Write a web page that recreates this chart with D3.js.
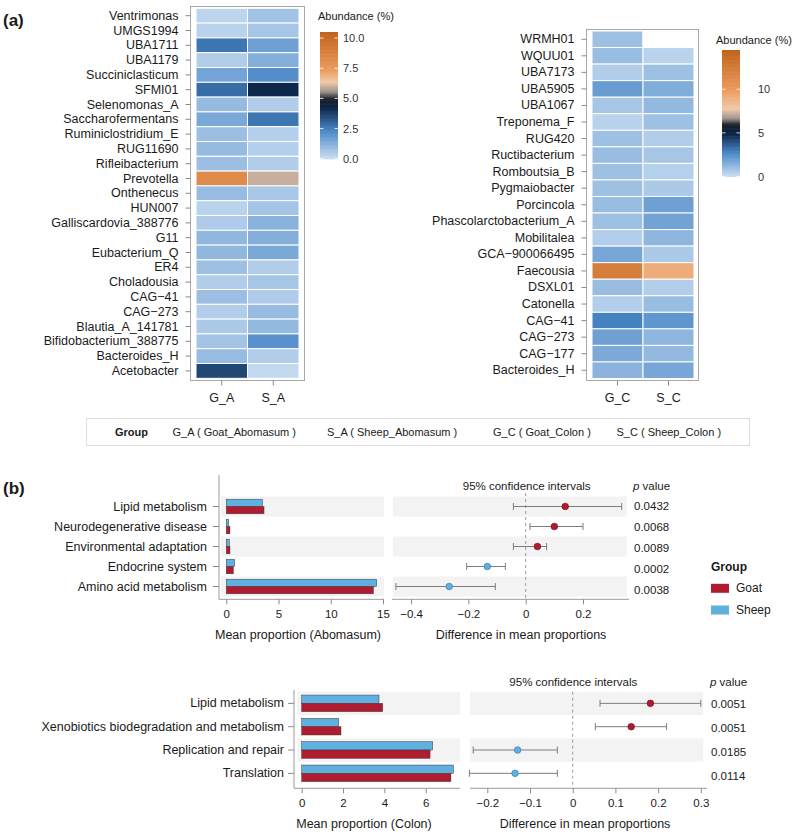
<!DOCTYPE html>
<html><head><meta charset="utf-8">
<script src="https://cdn.jsdelivr.net/npm/d3@7"></script>
<style>body{margin:0;background:#fff}svg{display:block}</style>
</head><body><svg id="c" width="800" height="835"></svg>
<script>
// ---------------- DATA ----------------
const leftTaxa = ["Ventrimonas","UMGS1994","UBA1711","UBA1179","Succiniclasticum","SFMI01","Selenomonas_A","Saccharofermentans","Ruminiclostridium_E","RUG11690","Rifleibacterium","Prevotella","Onthenecus","HUN007","Galliscardovia_388776","G11","Eubacterium_Q","ER4","Choladousia","CAG\u221241","CAG\u2212273","Blautia_A_141781","Bifidobacterium_388775","Bacteroides_H","Acetobacter"];
const leftCols = ["G_A","S_A"];
const leftGA = [0.3,0.35,2.7,0.5,1.6,2.9,1.0,1.5,0.9,1.0,0.9,8.3,0.95,0.35,0.55,1.1,1.1,0.85,0.5,0.9,0.5,0.6,0.75,0.95,3.6];
const leftSA = [0.8,0.7,1.7,1.3,2.2,4.2,0.5,2.7,0.45,0.45,0.5,6.0,0.65,0.75,1.25,1.3,1.5,0.5,0.7,0.55,0.95,1.05,2.1,0.5,0.2];
const leftBarTicks = [0,2.5,5,7.5,10];
const leftBarLabels = ["0.0","2.5","5.0","7.5","10.0"];

const rightTaxa = ["WRMH01","WQUU01","UBA7173","UBA5905","UBA1067","Treponema_F","RUG420","Ructibacterium","Romboutsia_B","Pygmaiobacter","Porcincola","Phascolarctobacterium_A","Mobilitalea","GCA\u2212900066495","Faecousia","DSXL01","Catonella","CAG\u221241","CAG\u2212273","CAG\u2212177","Bacteroides_H"];
const rightCols = ["G_C","S_C"];
const rightGC = [1.0,1.1,0.6,2.1,0.8,0.45,1.0,1.1,1.0,1.0,1.1,1.0,0.55,1.8,12.3,1.1,0.55,2.9,2.0,1.7,1.4];
const rightSC = [null,0.4,1.0,1.6,1.2,1.0,0.6,0.8,0.5,0.7,2.0,1.9,1.3,0.7,9.2,0.55,1.1,2.3,1.3,1.2,1.8];
const rightBarTicks = [0,5,10];
const rightBarLabels = ["0","5","10"];

const groupKeys = ["G_A","S_A","G_C","S_C"];
const groupNames = ["G_A ( Goat_Abomasum )","S_A ( Sheep_Abomasum )","G_C ( Goat_Colon )","S_C ( Sheep_Colon )"];

const aboPaths = ["Lipid metabolism","Neurodegenerative disease","Environmental adaptation","Endocrine system","Amino acid metabolism"];
const aboSheep = [3.45,0.23,0.29,0.80,14.4];
const aboGoat  = [3.61,0.35,0.35,0.67,14.08];
const aboDiff  = [0.138,0.100,0.041,-0.134,-0.267];
const aboLo    = [-0.043,0.015,-0.043,-0.206,-0.453];
const aboHi    = [0.335,0.200,0.073,-0.071,-0.106];
const aboP     = ["0.0432","0.0068","0.0089","0.0002","0.0038"];
const aboBarTicks = [0,5,10,15];
const aboDiffTicks = [-0.4,-0.2,0,0.2];

const colPaths = ["Lipid metabolism","Xenobiotics biodegradation and metabolism","Replication and repair","Translation"];
const colSheep = [3.74,1.79,6.34,7.34];
const colGoat  = [3.92,1.90,6.21,7.22];
const colDiff  = [0.182,0.137,-0.129,-0.135];
const colLo    = [0.064,0.053,-0.233,-0.242];
const colHi    = [0.300,0.220,-0.036,-0.036];
const colP     = ["0.0051","0.0051","0.0185","0.0114"];
const colBarTicks = [0,2,4,6];
const colDiffTicks = [-0.2,-0.1,0,0.1,0.2,0.3];

const groupLegend = ["Goat","Sheep"];

// ---------------- STYLE ----------------
const FONT = "'Liberation Sans', Arial, Helvetica, sans-serif";
const TXT = "#1a1a1a";
const SHEEP = "#5fb0e0", GOAT = "#b01b2f", STRIPE = "#f3f3f3";
const svg = d3.select("#c").attr("font-family", FONT);

function text(x, y, s, o = {}) {
  return svg.append("text").attr("x", x).attr("y", y).attr("dominant-baseline", "central")
    .attr("font-size", o.size || 12).attr("fill", o.fill || TXT)
    .attr("text-anchor", o.anchor || "start").attr("font-weight", o.bold ? "bold" : null).text(s);
}

const leftColor = d3.scaleLinear()
  .domain([0,2.4,4.3,5.0,5.6,6.4,7.4,10.5])
  .range(["#cde0f3","#4886c6","#0b2345","#1e2028","#9b948e","#f1c9a9","#eb9b5e","#c0631c"])
  .interpolate(d3.interpolateRgb).clamp(true);
const rightColor = d3.scaleLinear()
  .domain([0,2.8,5.0,6.0,6.7,7.8,10,14.5])
  .range(["#cde0f3","#4886c6","#0b2345","#1e2028","#9b948e","#f1c9a9","#eb9b5e","#c0631c"])
  .interpolate(d3.interpolateRgb).clamp(true);

function styleAxis(a, size) {
  a.select(".domain").remove();
  a.attr("font-family", FONT).attr("font-size", size);
  a.selectAll("line").attr("stroke", "#8a8a8a");
  a.selectAll("text").attr("fill", TXT);
}

function drawHeat(c) {
  const x = d3.scaleBand().domain(c.cols).range(c.xr);
  const y = d3.scaleBand().domain(c.taxa).range(c.yr);
  svg.append("rect").attr("x", c.panel[0]).attr("y", c.panel[1])
    .attr("width", c.panel[2] - c.panel[0]).attr("height", c.panel[3] - c.panel[1])
    .attr("fill", "#fff").attr("stroke", "#a8a8a8");
  const cells = [];
  c.cols.forEach((col, i) => c.taxa.forEach((t, j) => cells.push({ col, t, v: c.vals[i][j] })));
  svg.append("g").selectAll("rect").data(cells).join("rect")
    .attr("x", d => x(d.col)).attr("y", d => y(d.t))
    .attr("width", x.bandwidth()).attr("height", y.bandwidth())
    .attr("fill", d => d.v == null ? "#fff" : c.color(d.v))
    .attr("stroke", "#fff").attr("stroke-width", 1);
  const ay = svg.append("g").attr("transform", `translate(${c.panel[0]},0)`)
    .call(d3.axisLeft(y).tickSize(5).tickPadding(7).tickSizeOuter(0));
  const ax = svg.append("g").attr("transform", `translate(0,${c.panel[3]})`)
    .call(d3.axisBottom(x).tickSize(5).tickPadding(8).tickSizeOuter(0));
  styleAxis(ay, 12.5); styleAxis(ax, 12.5);
}

function drawCbar(c) {
  const y = d3.scaleLinear().domain([0, c.max]).range(c.yr);
  const n = 160;
  const steps = d3.range(n).map(i => [c.max * i / n, c.max * (i + 1) / n]);
  svg.append("g").selectAll("rect").data(steps).join("rect")
    .attr("x", c.x).attr("width", c.w)
    .attr("y", d => y(d[1])).attr("height", d => y(d[0]) - y(d[1]) + 0.6)
    .attr("fill", d => c.color((d[0] + d[1]) / 2));
  const g = svg.append("g");
  c.ticks.forEach((t, i) => {
    g.append("line").attr("x1", c.x).attr("x2", c.x + 3.5).attr("y1", y(t)).attr("y2", y(t)).attr("stroke", "#fff").attr("stroke-opacity", 0.8);
    g.append("line").attr("x1", c.x + c.w - 3.5).attr("x2", c.x + c.w).attr("y1", y(t)).attr("y2", y(t)).attr("stroke", "#fff").attr("stroke-opacity", 0.8);
    text(c.lx, y(t), c.labels[i], { size: 11, fill: "#333" });
  });
  text(c.tx, c.ty, "Abundance (%)", { size: 11 });
}

// (a)
text(3, 20, "(a)", { size: 17, bold: true });
drawHeat({ taxa: leftTaxa, cols: leftCols, vals: [leftGA, leftSA], xr: [196, 299], yr: [8.3, 378.3], panel: [190.5, 6.5, 304.5, 380.5], color: leftColor });
drawCbar({ x: 320, w: 18, yr: [158.8, 32], max: 10.5, color: leftColor, ticks: leftBarTicks, labels: leftBarLabels, lx: 343, tx: 318, ty: 16 });
drawHeat({ taxa: rightTaxa, cols: rightCols, vals: [rightGC, rightSC], xr: [592, 694], yr: [31, 378.5], panel: [586.5, 29.5, 698.5, 380.5], color: rightColor });
drawCbar({ x: 722, w: 18, yr: [176.5, 50], max: 14.5, color: rightColor, ticks: rightBarTicks, labels: rightBarLabels, lx: 758, tx: 716, ty: 40 });

// group legend box
svg.append("rect").attr("x", 86.5).attr("y", 418.5).attr("width", 663).attr("height", 27).attr("fill", "#fff").attr("stroke", "#dcdcdc");
text(115, 432, "Group", { size: 11, bold: true });
const legX = d3.scaleOrdinal().domain(groupKeys).range([172.5, 327, 493, 616.5]);
groupKeys.forEach((k, i) => text(legX(k), 432, groupNames[i], { size: 11 }));

// (b)
text(3, 488, "(b)", { size: 17, bold: true });

function drawStamp(c) {
  const y = d3.scaleBand().domain(c.paths).range(c.rows);
  const yp = d3.scaleBand().domain(c.paths).range(c.pRows);
  const g = svg.append("g");
  c.paths.forEach((p, i) => {
    if (i % 2 === 0) {
      g.append("rect").attr("x", c.barStripe[0]).attr("width", c.barStripe[1] - c.barStripe[0]).attr("y", y(p)).attr("height", y.bandwidth()).attr("fill", STRIPE);
      g.append("rect").attr("x", c.diffStripe[0]).attr("width", c.diffStripe[1] - c.diffStripe[0]).attr("y", y(p)).attr("height", y.bandwidth()).attr("fill", STRIPE);
    }
  });
  const mid = p => y(p) + y.bandwidth() / 2;
  const bh = c.barH;
  g.selectAll(".bs").data(c.paths).join("rect").attr("class", "bs")
    .attr("x", c.bx(0)).attr("y", p => mid(p) - bh)
    .attr("width", (p, i) => c.bx(c.sheep[i]) - c.bx(0)).attr("height", bh)
    .attr("fill", SHEEP).attr("stroke", "#3a3a3a").attr("stroke-width", 0.5);
  g.selectAll(".bg").data(c.paths).join("rect").attr("class", "bg")
    .attr("x", c.bx(0)).attr("y", p => mid(p))
    .attr("width", (p, i) => c.bx(c.goat[i]) - c.bx(0)).attr("height", bh)
    .attr("fill", GOAT).attr("stroke", "#3a3a3a").attr("stroke-width", 0.5);
  g.append("line").attr("x1", c.axisX).attr("x2", c.axisX).attr("y1", c.axisTop).attr("y2", c.axisY).attr("stroke", "#9a9a9a");
  g.append("line").attr("x1", c.axisX).attr("x2", c.barStripe[1]).attr("y1", c.axisY).attr("y2", c.axisY).attr("stroke", "#9a9a9a");
  g.append("line").attr("x1", c.diffAxis[0]).attr("x2", c.diffAxis[1]).attr("y1", c.axisY).attr("y2", c.axisY).attr("stroke", "#9a9a9a");
  const al = svg.append("g").attr("transform", `translate(${c.axisX},0)`)
    .call(d3.axisLeft(y).tickSize(6).tickPadding(c.labelPad).tickSizeOuter(0));
  styleAxis(al, 12.5);
  const ab = svg.append("g").attr("transform", `translate(0,${c.axisY})`)
    .call(d3.axisBottom(c.bx).tickValues(c.barTicks).tickFormat(d3.format("d")).tickSize(5).tickPadding(6).tickSizeOuter(0));
  styleAxis(ab, 11.5);
  const fmt = d => d === 0 ? "0" : d3.format(".1f")(d);
  const ad = svg.append("g").attr("transform", `translate(0,${c.axisY})`)
    .call(d3.axisBottom(c.dx).tickValues(c.diffTicks).tickFormat(fmt).tickSize(5).tickPadding(6).tickSizeOuter(0));
  styleAxis(ad, 11.5);
  g.append("line").attr("x1", c.dx(0)).attr("x2", c.dx(0)).attr("y1", c.zeroTop).attr("y2", c.axisY)
    .attr("stroke", "#9a9a9a").attr("stroke-dasharray", "3,3");
  c.paths.forEach((p, i) => {
    const yy = mid(p);
    g.append("line").attr("x1", c.dx(c.lo[i])).attr("x2", c.dx(c.hi[i])).attr("y1", yy).attr("y2", yy).attr("stroke", "#7d7d7d");
    [c.lo[i], c.hi[i]].forEach(v => g.append("line").attr("x1", c.dx(v)).attr("x2", c.dx(v)).attr("y1", yy - 3.5).attr("y2", yy + 3.5).attr("stroke", "#7d7d7d"));
    const col = c.diff[i] > 0 ? GOAT : SHEEP;
    g.append("circle").attr("cx", c.dx(c.diff[i])).attr("cy", yy).attr("r", 3.3)
      .attr("fill", col).attr("stroke", c.diff[i] > 0 ? "#7a1020" : "#3d7fae").attr("stroke-width", 0.7);
    text(c.pX, yp(p) + yp.bandwidth() / 2, c.pvals[i], { size: 11.5 });
  });
  text(c.ciX, c.ciY, "95% confidence intervals", { size: 11.5, anchor: "middle" });
  const pv = text(c.pX - 1, c.ciY, "", { size: 11.5 });
  pv.append("tspan").attr("font-style", "italic").text("p");
  pv.append("tspan").text(" value");
  text(c.barTitleX, c.titleY, c.barTitle, { size: 12.5, anchor: "middle" });
  text(c.diffTitleX, c.titleY, "Difference in mean proportions", { size: 12.5, anchor: "middle" });
}

drawStamp({
  paths: aboPaths, sheep: aboSheep, goat: aboGoat, diff: aboDiff, lo: aboLo, hi: aboHi, pvals: aboP,
  rows: [496.5, 596.5], pRows: [495, 600.5], barH: 7.3,
  bx: d3.scaleLinear().domain([0, 15]).range([226.3, 383]), barTicks: aboBarTicks,
  dx: d3.scaleLinear().domain([0, 0.2]).range([525.7, 583]), diffTicks: aboDiffTicks,
  axisX: 219, axisTop: 475, axisY: 599.3, labelPad: 6,
  barStripe: [221, 384], diffStripe: [392.7, 626.7], diffAxis: [392, 629],
  zeroTop: 493, ciX: 526.7, ciY: 486, pX: 634,
  barTitle: "Mean proportion (Abomasum)", barTitleX: 298, diffTitleX: 521, titleY: 635
});

drawStamp({
  paths: colPaths, sheep: colSheep, goat: colGoat, diff: colDiff, lo: colLo, hi: colHi, pvals: colP,
  rows: [691.7, 785], pRows: [692, 788.4], barH: 8.3,
  bx: d3.scaleLinear().domain([0, 6]).range([301.7, 425.7]), barTicks: colBarTicks,
  dx: d3.scaleLinear().domain([0, 0.3]).range([572.7, 700.8]), diffTicks: colDiffTicks,
  axisX: 294, axisTop: 690, axisY: 788.3, labelPad: 4,
  barStripe: [297, 460], diffStripe: [470, 703.3], diffAxis: [470, 706.7],
  zeroTop: 691.7, ciX: 573.3, ciY: 681.7, pX: 711,
  barTitle: "Mean proportion (Colon)", barTitleX: 364, diffTitleX: 585, titleY: 824.3
});

// group legend (b)
text(711, 567, "Group", { size: 12, bold: true });
const legCol = d3.scaleOrdinal().domain(groupLegend).range([GOAT, SHEEP]);
const legY = d3.scaleOrdinal().domain(groupLegend).range([588.3, 610]);
groupLegend.forEach(k => {
  svg.append("rect").attr("x", 711).attr("y", legY(k) - 4.5).attr("width", 18).attr("height", 9).attr("fill", legCol(k));
  text(736, legY(k), k, { size: 12 });
});
</script></body></html>
